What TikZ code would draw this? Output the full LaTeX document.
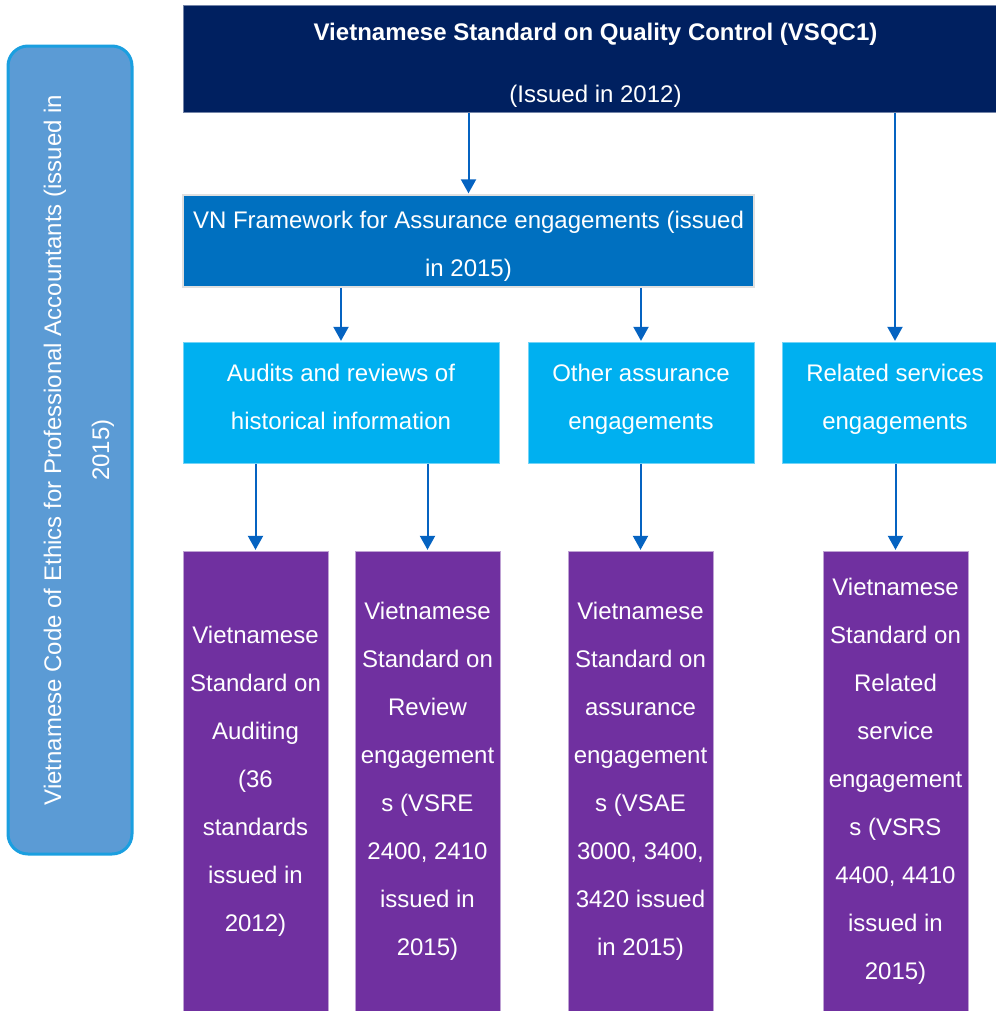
\documentclass[tikz,border=0pt]{standalone}
\usepackage{fontspec}
\setmainfont{Liberation Sans}
\usetikzlibrary{arrows.meta}

\definecolor{navy}{HTML}{002060}
\definecolor{fwblue}{HTML}{0070C0}
\definecolor{skyblue}{HTML}{00B0F0}
\definecolor{stdpurple}{HTML}{7030A0}
\definecolor{ethicsfill}{HTML}{5B9BD5}
\definecolor{ethicsline}{HTML}{1A9FE0}
\definecolor{arrowblue}{HTML}{0563C1}

\tikzset{
  boxtext/.style={align=center, text=white, inner sep=0pt,
    font=\fontsize{18}{36}\selectfont},
  box/.style={rectangle, inner sep=0pt, boxtext},
  topbox/.style={box, fill=navy, draw=navy!55!white, line width=0.75pt,
    minimum width=609.75pt, minimum height=80.25pt},
  fwbox/.style={box, fill=fwblue, draw=black!12, line width=1.5pt,
    minimum width=428.25pt, minimum height=69pt},
  kindbox/.style={box, fill=skyblue, draw=skyblue!55!white, line width=0.75pt,
    minimum height=90.75pt},
  stdbox/.style={box, fill=stdpurple, draw=stdpurple!45!white, line width=0.75pt,
    minimum width=108.75pt, minimum height=345pt},
  ethicsbox/.style={box, fill=ethicsfill, draw=ethicsline,
    line width=2.25pt, rounded corners=15pt,
    minimum width=93pt, minimum height=606pt},
  arr/.style={draw=arrowblue, line width=1.5pt,
    -{Triangle[width=11.25pt,length=10.5pt]}, shorten >=0.5pt}
}

\begin{document}
\begin{tikzpicture}[x=0.75pt,y=-0.75pt]
\useasboundingbox (0,0) rectangle (996,1011);

% code of ethics, spanning the left side (text reads bottom to top)
\node[ethicsbox, label={[boxtext, xshift=6.75pt, rotate=90]center:%
  Vietnamese Code of Ethics for Professional Accountants (issued in\\2015)}]
  (ethics) at (70,450) {};

% quality control standard
\node[topbox, label={[boxtext, xshift=4.5pt, yshift=-4.9pt]center:%
  \textbf{Vietnamese Standard on Quality Control (VSQC1)}\\[10.5pt](Issued in 2012)}]
  (vsqc) at (589.5,58.5) {};

% assurance framework
\node[fwbox, label={[boxtext, yshift=-4.1pt]center:%
  VN Framework for Assurance engagements (issued\\in 2015)}]
  (frame) at (468.5,241) {};

% engagement kinds
\node[kindbox, minimum width=237pt, label={[boxtext, yshift=4.5pt]center:%
  Audits and reviews of\\historical information}]
  (audit) at (341,402.5) {};
\node[kindbox, minimum width=169.5pt, label={[boxtext, yshift=2.25pt]center:%
  Other assurance\\engagements}]
  (other) at (641,402.5) {};
\node[kindbox, minimum width=160.5pt, label={[boxtext, xshift=4.5pt, yshift=2.25pt]center:%
  Related services\\engagements}]
  (related) at (889,402.5) {};

% standards
\node[stdbox] (vsa) at (255.5,781)
  {Vietnamese\\Standard on\\Auditing\\(36\\standards\\issued in\\2012)};
\node[stdbox] (vsre) at (427.5,781)
  {Vietnamese\\Standard on\\Review\\engagement\\s (VSRE\\2400, 2410\\issued in\\2015)};
\node[stdbox] (vsae) at (640.5,781)
  {Vietnamese\\Standard on\\assurance\\engagement\\s (VSAE\\3000, 3400,\\3420 issued\\in 2015)};
\node[stdbox] (vsrs) at (895.5,781)
  {Vietnamese\\Standard on\\Related\\service\\engagement\\s (VSRS\\4400, 4410\\issued in\\2015)};

% connectors
\draw[arr] (frame.north |- vsqc.south) -- (frame.north);
\draw[arr] ([xshift=4.5pt]related.north |- vsqc.south) -- ([xshift=4.5pt]related.north);
\draw[arr] (audit.north |- frame.south) -- (audit.north);
\draw[arr] (other.north |- frame.south) -- (other.north);
\draw[arr] (vsa.north |- audit.south) -- (vsa.north);
\draw[arr] (vsre.north |- audit.south) -- (vsre.north);
\draw[arr] (vsae.north |- other.south) -- (vsae.north);
\draw[arr] (vsrs.north |- related.south) -- (vsrs.north);
\end{tikzpicture}
\end{document}
